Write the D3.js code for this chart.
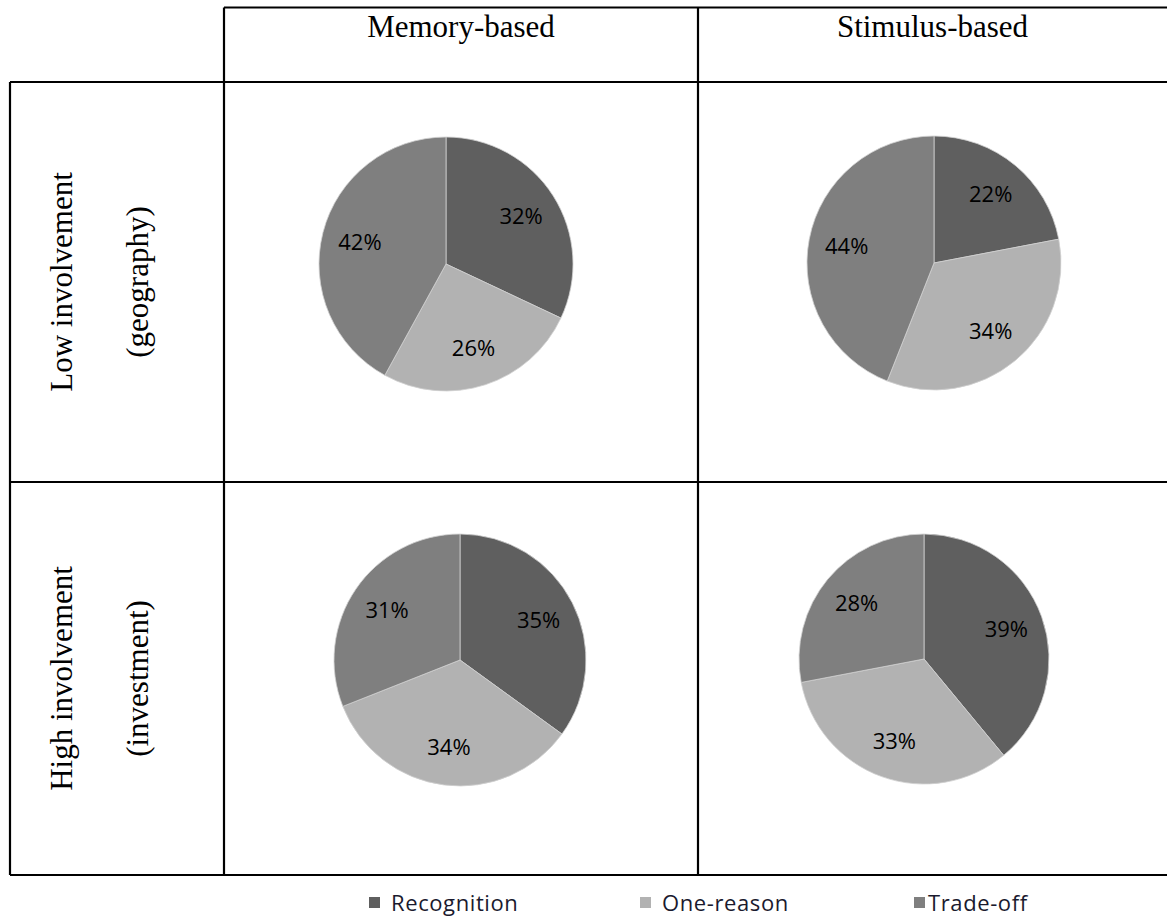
<!DOCTYPE html>
<html>
<head>
<meta charset="utf-8">
<script src="https://cdn.jsdelivr.net/npm/d3@7"></script>
<style>
  html, body { margin: 0; padding: 0; background: #fff; }
  svg { display: block; }
</style>
</head>
<body>
<svg id="chart" width="1167" height="918"></svg>
<script>
// Decision strategies by task type and involvement
const columnLabels = ["Memory-based", "Stimulus-based"];
const rowLabels = [["Low involvement", "(geography)"], ["High involvement", "(investment)"]];
const categories = ["Recognition", "One-reason", "Trade-off"];
const lowMemory = [32, 26, 42];
const lowStimulus = [22, 34, 44];
const highMemory = [35, 34, 31];
const highStimulus = [39, 33, 28];
const panelValues = [[lowMemory, lowStimulus], [highMemory, highStimulus]];

const colors = d3.scaleOrdinal().domain(categories).range(["#5f5f5f", "#b2b2b2", "#7f7f7f"]);

const svg = d3.select("#chart");

// table geometry
const colX = [10, 224, 698, 1167];
const rowY = [7.5, 82, 482, 875];
const pieCenters = [[[446, 264], [934, 263]], [[460, 660], [924, 659]]];
const pieRadius = [[127, 127], [126, 125]];

// grid lines
const grid = svg.append("g").attr("stroke", "#000").attr("stroke-width", 2.2);
const hLines = [[colX[1], rowY[0]], [colX[0], rowY[1]], [colX[0], rowY[2]], [colX[0], rowY[3]]];
hLines.forEach(([x0, y]) => grid.append("line").attr("x1", x0).attr("x2", colX[3]).attr("y1", y).attr("y2", y));
grid.append("line").attr("x1", colX[0]).attr("x2", colX[0]).attr("y1", rowY[1]).attr("y2", rowY[3]);
grid.append("line").attr("x1", colX[1]).attr("x2", colX[1]).attr("y1", rowY[0]).attr("y2", rowY[3]);
grid.append("line").attr("x1", colX[2]).attr("x2", colX[2]).attr("y1", rowY[0]).attr("y2", rowY[3]);

// column headers
svg.selectAll("text.col")
  .data(columnLabels)
  .join("text")
  .attr("class", "col")
  .attr("x", (d, i) => (colX[i + 1] + colX[i + 2]) / 2)
  .attr("y", 37)
  .attr("text-anchor", "middle")
  .attr("font-family", "'Liberation Serif', 'Times New Roman', serif")
  .attr("font-size", 31)
  .attr("fill", "#000")
  .text(d => d);

// row headers, rotated
rowLabels.forEach((lines, r) => {
  const cy = (rowY[r + 1] + rowY[r + 2]) / 2;
  const baselines = [72, 148];
  lines.forEach((t, k) => {
    svg.append("text")
      .attr("transform", `translate(${baselines[k]},${cy}) rotate(-90)`)
      .attr("text-anchor", "middle")
      .attr("font-family", "'Liberation Serif', 'Times New Roman', serif")
      .attr("font-size", 31)
      .attr("fill", "#000")
      .text(t);
  });
});

// pies
const pie = d3.pie().sort(null).value(d => d.value);
panelValues.forEach((row, r) => {
  row.forEach((vals, c) => {
    const [cx, cy] = pieCenters[r][c];
    const rad = pieRadius[r][c];
    const arc = d3.arc().innerRadius(0).outerRadius(rad);
    const labelArc = d3.arc().innerRadius(rad * 0.7).outerRadius(rad * 0.7);
    const data = pie(vals.map((v, i) => ({ key: categories[i], value: v })));
    const g = svg.append("g").attr("transform", `translate(${cx},${cy})`);
    g.selectAll("path")
      .data(data)
      .join("path")
      .attr("d", arc)
      .attr("fill", d => colors(d.data.key))
      .attr("stroke", "#d0d0d0")
      .attr("stroke-width", 0.8);
    g.selectAll("text")
      .data(data)
      .join("text")
      .attr("transform", d => `translate(${labelArc.centroid(d)})`)
      .attr("text-anchor", "middle")
      .attr("dy", "0.36em")
      .attr("font-family", "'Open Sans', 'Noto Sans', sans-serif")
      .attr("font-size", 22)
      .attr("fill", "#000")
      .text(d => d.data.value + "%");
  });
});

// legend
const legendSwatchX = [369, 640, 914];
const legendTextX = [391, 662, 928];
const legend = svg.append("g");
categories.forEach((cat, i) => {
  legend.append("rect")
    .attr("x", legendSwatchX[i]).attr("y", 897)
    .attr("width", 11).attr("height", 11)
    .attr("fill", colors(cat));
  legend.append("text")
    .attr("x", legendTextX[i]).attr("y", 911)
    .attr("font-family", "'Open Sans', 'Noto Sans', sans-serif")
    .attr("font-size", 22)
    .attr("letter-spacing", 0.6)
    .attr("fill", "#1a1a2e")
    .text(cat);
});
</script>
</body>
</html>
